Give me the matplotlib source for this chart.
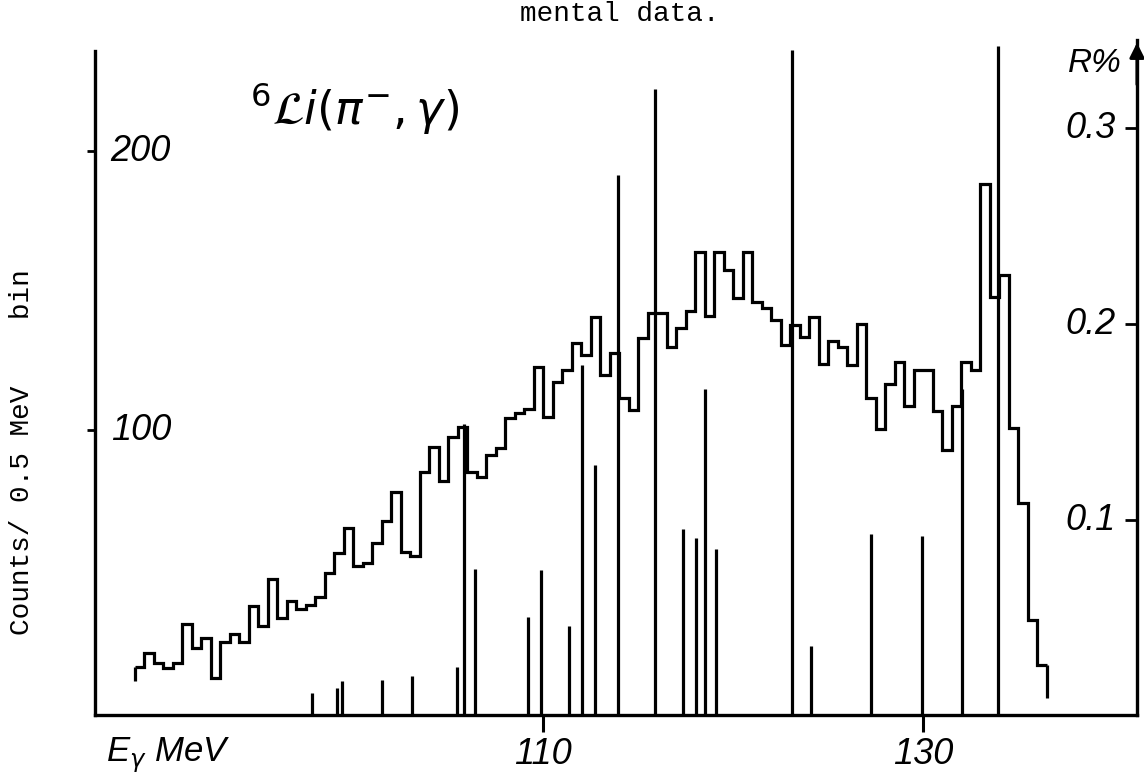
import numpy as np
import matplotlib
matplotlib.use("Agg")
import matplotlib.pyplot as plt

# histogram: counts per 0.5 MeV bin, starting at 88.5 MeV
E_START = 88.5
BIN_W = 0.5
counts = [15.1, 20.1, 16.5, 14.7, 16.5, 30.5, 21.9, 25.4, 11.1, 24.0,
          26.9, 24.0, 36.9, 29.7, 46.6, 32.6, 38.7, 35.8, 37.3, 40.1,
          48.7, 55.9, 64.9, 51.3, 52.3, 59.5, 67.4, 77.8, 56.3, 54.8,
          84.9, 93.9, 81.7, 97.5, 101.1, 84.9, 83.2, 91.0, 93.5, 104.3,
          106.1, 107.5, 122.6, 104.7, 117.2, 121.5, 131.2, 126.9, 140.5, 119.7,
          127.6, 111.5, 107.2, 133.0, 141.9, 141.9, 129.7, 136.6, 142.7, 163.8,
          140.9, 163.8, 157.3, 147.3, 163.8, 145.9, 143.7, 139.4, 130.5, 137.6,
          133.3, 140.5, 123.7, 131.9, 129.7, 123.3, 138.0, 111.5, 100.4, 116.5,
          124.4, 108.6, 121.5, 121.5, 106.8, 92.8, 108.6, 124.4, 121.5, 188.2,
          147.7, 155.6, 100.7, 73.8, 31.9, 15.8]
start_tail = 10.0   # little drop at the start of the histogram
end_tail = 4.0      # and at the end

# theoretical lines, R %
line_e = [97.84, 99.16, 99.42, 101.53, 103.1, 105.47, 105.84, 106.42, 109.21, 109.89,
          111.37, 112.05, 112.74, 113.95, 115.9, 117.37, 118.05, 118.53, 119.1, 123.1,
          124.1, 127.26, 129.95, 132.05, 133.95]
line_r = [0.0117, 0.0143, 0.0179, 0.0184, 0.0204, 0.025, 0.149, 0.075, 0.0505, 0.0745,
          0.046, 0.179, 0.128, 0.276, 0.320, 0.0954, 0.0908, 0.167, 0.0852, 0.340,
          0.0357, 0.0929, 0.0918, 0.167, 0.342]

x_ticks = [110, 130]
y_ticks = [100, 200]
r_ticks = [0.1, 0.2, 0.3]

W, H = 1144, 782
fig = plt.figure(figsize=(W / 100, H / 100), dpi=100)
L, R, B, T = 95, 1137, 715, 40
ax = fig.add_axes([L / W, 1 - B / H, (R - L) / W, (B - T) / H])
ax2 = ax.twinx()

LW = 2.3
hand = dict(family="Liberation Sans", style="italic", fontsize=26)

edges = E_START + BIN_W * np.arange(len(counts) + 1)
ax.stairs(counts, edges, baseline=None, color="black", lw=LW)
ax.vlines([edges[0], edges[-1]], [start_tail, end_tail], [counts[0], counts[-1]],
          color="black", lw=LW)

ax.set_xlim(86.42, 141.26)
ax.set_ylim(-2.15, 239.8)
ax2.set_ylim(0.0005, 0.345)

ax2.vlines(line_e, 0, line_r, color="black", lw=LW)

for a in (ax, ax2):
    a.spines["top"].set_visible(False)
    for s in a.spines.values():
        s.set_linewidth(2.4)
ax2.spines["left"].set_visible(False)
ax2.spines["bottom"].set_visible(False)
ax.spines["right"].set_visible(False)
ax.spines["left"].set_bounds(-2.15, 236)

ax.set_xticks(x_ticks)
ax.set_xticklabels([str(v) for v in x_ticks], **hand)
ax.tick_params(axis="x", direction="out", length=12, width=2.2, pad=4)
ax.set_yticks(y_ticks)
ax.set_yticklabels([])
ax.tick_params(axis="y", direction="out", length=6, width=2)
for v in y_ticks:
    ax.text(0.015, v, str(v), transform=ax.get_yaxis_transform(),
            ha="left", va="center", **hand)

ax2.set_yticks(r_ticks)
ax2.set_yticklabels([])
ax2.tick_params(axis="y", direction="in", length=9, width=2)
for v in r_ticks:
    ax2.text(0.98, v, str(v), transform=ax2.get_yaxis_transform(),
             ha="right", va="center", **hand)

# arrow on the right axis
ax2.annotate("", xy=(1, 1.0), xycoords="axes fraction", xytext=(1, 0.93),
             arrowprops=dict(arrowstyle="-|>", color="black", lw=2.2, mutation_scale=22))

fig.text(1068 / W, 1 - 64 / H, "R%", ha="left", va="center",
         family="Liberation Sans", style="italic", fontsize=24)
fig.text(106 / W, 1 - 755 / H, r"E$_\gamma$ MeV", ha="left", va="center",
         family="Liberation Sans", style="italic", fontsize=25)
fig.text(250 / W, 1 - 108 / H, r"$^{6}\mathcal{L}i(\pi^{-},\gamma)$", ha="left", va="center",
         fontsize=33)

mono = dict(family="Liberation Mono", fontsize=20)
fig.text(22 / W, 1 - 452 / H, "Counts/ 0.5 MeV    bin", rotation=90,
         ha="center", va="center", **mono)
fig.text(520 / W, 1 - 14 / H, "mental data.", ha="left", va="center", **mono)

fig.savefig("out.png", dpi=100)
